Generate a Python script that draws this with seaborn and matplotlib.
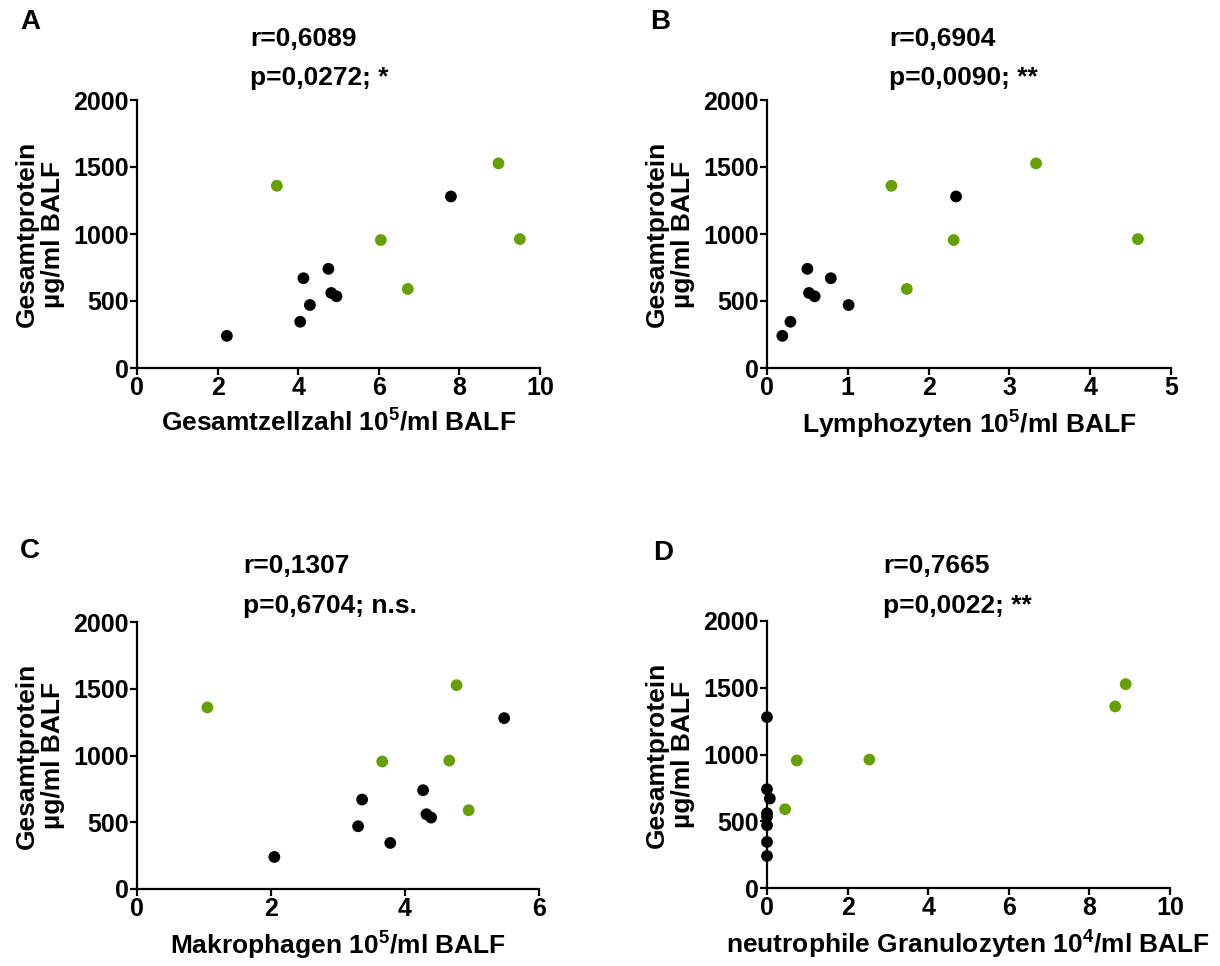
import matplotlib
matplotlib.use("Agg")
import matplotlib.pyplot as plt
import seaborn as sns
import pandas as pd

sns.set_style("ticks")
plt.rcParams['font.family'] = ['Liberation Sans', 'DejaVu Sans']
plt.rcParams['font.weight'] = 'bold'
plt.rcParams['text.color'] = 'black'
plt.rcParams['axes.labelcolor'] = 'black'
plt.rcParams['xtick.color'] = 'black'
plt.rcParams['ytick.color'] = 'black'
plt.rcParams['mathtext.fontset'] = 'custom'
plt.rcParams['mathtext.rm'] = 'Liberation Sans:bold'
plt.rcParams['mathtext.bf'] = 'Liberation Sans:bold'
plt.rcParams['mathtext.default'] = 'rm'

# Gesamtprotein (µg/ml BALF) per subject
protein = [240, 345, 470, 670, 740, 560, 535, 1280, 1360, 1527, 955, 962, 590]
group = ["ctrl"] * 8 + ["case"] * 5

gesamtzellzahl = [2.23, 4.05, 4.29, 4.13, 4.75, 4.82, 4.95, 7.79, 3.47, 8.97, 6.05, 9.50, 6.72]
lymphozyten = [0.19, 0.29, 1.01, 0.79, 0.50, 0.52, 0.59, 2.34, 1.54, 3.33, 2.31, 4.59, 1.73]
makrophagen = [2.05, 3.78, 3.30, 3.36, 4.27, 4.32, 4.39, 5.48, 1.05, 4.77, 3.66, 4.66, 4.95]
neutrophile = [0.0, 0.0, 0.0, 0.07, 0.0, 0.0, 0.0, 0.0, 8.64, 8.90, 0.74, 2.54, 0.45]

panel_letters = ["A", "B", "C", "D"]
r_texts = ["r=0,6089", "r=0,6904", "r=0,1307", "r=0,7665"]
p_texts = ["p=0,0272; *", "p=0,0090; **", "p=0,6704; n.s.", "p=0,0022; **"]
x_labels = [r"Gesamtzellzahl 10$^{5}$/ml BALF", r"Lymphozyten 10$^{5}$/ml BALF",
            r"Makrophagen 10$^{5}$/ml BALF", r"neutrophile Granulozyten 10$^{4}$/ml BALF"]
x_max = [10, 5, 6, 10]
x_step = [2, 1, 2, 2]
y_ticks = [0, 500, 1000, 1500, 2000]

palette = {"ctrl": "#000000", "case": "#66A000"}

W, H = 1220, 966
fig = plt.figure(figsize=(W / 100, H / 100), dpi=100)

# axes boxes in pixels: left, top, right, bottom
boxes = [(137, 100, 540, 368), (767, 100, 1171, 368),
         (137, 622, 539, 889), (767, 621, 1170, 888)]
letter_pos = [(30, 22), (660, 22), (30, 551), (663, 553)]
text_x = [250, 889, 243, 883]
r_y = [39, 39, 566, 566]
p_y = [78, 78, 606, 606]

xs = [gesamtzellzahl, lymphozyten, makrophagen, neutrophile]

for i in range(4):
    l, t, r, b = boxes[i]
    ax = fig.add_axes([l / W, 1 - b / H, (r - l) / W, (b - t) / H])
    df = pd.DataFrame({"x": xs[i], "y": protein, "g": group})
    sns.scatterplot(data=df, x="x", y="y", hue="g", palette=palette, ax=ax,
                    s=72, linewidth=0, legend=False, clip_on=False, zorder=3)
    ax.set_xlim(0, x_max[i])
    ax.set_ylim(0, 2000)
    ax.set_xticks(range(0, x_max[i] + 1, x_step[i]))
    ax.set_yticks(y_ticks)
    for s in ["top", "right"]:
        ax.spines[s].set_visible(False)
    for s in ["left", "bottom"]:
        ax.spines[s].set_linewidth(1.6)
        ax.spines[s].set_color("black")
    ax.tick_params(direction="out", length=5, width=1.6, labelsize=18, pad=1, colors="black")
    for lab in ax.get_xticklabels() + ax.get_yticklabels():
        lab.set_fontweight("bold")
    ax.set_xlabel(x_labels[i], fontsize=19, fontweight="bold", labelpad=6)
    ax.set_ylabel("")
    cx = l - 97
    fig.text(cx / W, 1 - ((t + b) / 2) / H, "Gesamtprotein\nµg/ml BALF", rotation=90,
             ha="center", va="center", fontsize=19, fontweight="bold", multialignment="center",
             linespacing=1.15)
    fig.text(letter_pos[i][0] / W, 1 - letter_pos[i][1] / H, panel_letters[i],
             ha="center", va="center", fontsize=20, fontweight="bold")
    fig.text(text_x[i] / W, 1 - r_y[i] / H, r_texts[i], ha="left", va="center",
             fontsize=19, fontweight="bold")
    fig.text(text_x[i] / W, 1 - p_y[i] / H, p_texts[i], ha="left", va="center",
             fontsize=19, fontweight="bold")

fig.savefig("out.png", dpi=100, facecolor="white")
